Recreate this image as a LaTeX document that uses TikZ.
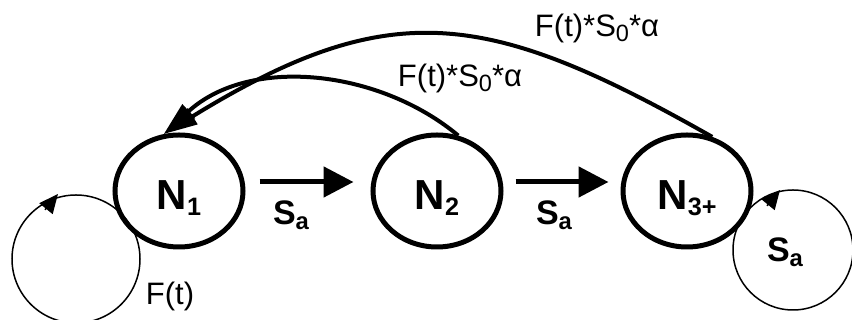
\documentclass[tikz,border=0pt]{standalone}
\usepackage{fontspec}
\setmainfont{Liberation Sans}
\usepackage{tikz}
\usetikzlibrary{arrows.meta,shapes.geometric}
\newcommand{\lowsub}[2][0.66]{\raisebox{-0.13em}{\scalebox{#1}{#2}}}

\begin{document}
\begin{tikzpicture}[x=1pt,y=1pt,
  state/.style={draw,ellipse,line width=5pt,minimum width=128pt,minimum height=112pt,
    inner sep=0pt,text height=40pt,text depth=2pt,font=\fontsize{42}{46}\selectfont\bfseries},
  flow/.style={line width=5pt,-{Triangle[length=30pt,width=30pt]}},
  back/.style={line width=4pt,-{Triangle[length=34pt,width=18pt]}},
  self/.style={line width=1.5pt},
  selfhead/.style={line width=1.5pt,shorten <=30pt,-{Triangle[length=19pt,width=17pt]}},
  rate/.style={font=\fontsize{34}{38}\selectfont\bfseries,anchor=base},
  flux/.style={font=\fontsize{31}{34}\selectfont,anchor=base}]
  \useasboundingbox (0,0) rectangle (852,320);
  \clip (0,0) rectangle (852,320);
  % Zustaende
  \node[state] (n1) at (179,129) {N\lowsub[0.6]{1}};
  \node[state] (n2) at (437,129) {N\lowsub[0.6]{2}};
  \node[state] (n3) at (687,129) {N\lowsub[0.6]{3+}};
  % Uebergaenge nach rechts
  \draw[flow,shorten <=14pt,shorten >=17pt] ([yshift=9pt]n1.east) -- ([yshift=9pt]n2.west);
  \draw[flow,shorten <=12pt,shorten >=12pt] ([yshift=9pt]n2.east) -- ([yshift=9pt]n3.west);
  \node[rate] (sa1) at (291,95) {S\lowsub[0.7]{a}};
  \node[rate] (sa2) at (554,95) {S\lowsub[0.7]{a}};
  % Rueckfluss nach N1
  \draw[back] (n3.65) .. controls (487,311) and (390,325) .. (n1.105);
  \draw[back] (n2.69) .. controls (380,250) and (250,265) .. (n1.105);
  \node[flux] (f2) at (460,233) {F(t)*S\lowsub[0.76]{0}*α};
  \node[flux] (f3) at (597,283) {F(t)*S\lowsub[0.76]{0}*α};
  % Schleifen, Pfeilspitze jeweils oben links auf dem Kreis
  \coordinate (l1) at (76,61);
  \coordinate (l3) at (793,70);
  \draw[self] (l1) circle[radius=64];
  \draw[selfhead] ([shift={(-50,26)}]l1) -- ([shift={(-18,65)}]l1);
  \draw[self] (l3) circle[radius=60];
  \draw[selfhead] ([shift={(-45,21)}]l3) -- ([shift={(-13,60)}]l3);
  \node[flux] (ft) at (170,15) {F(t)};
  \node[rate] (sa3) at (785,58) {S\lowsub[0.7]{a}};
\end{tikzpicture}
\end{document}
